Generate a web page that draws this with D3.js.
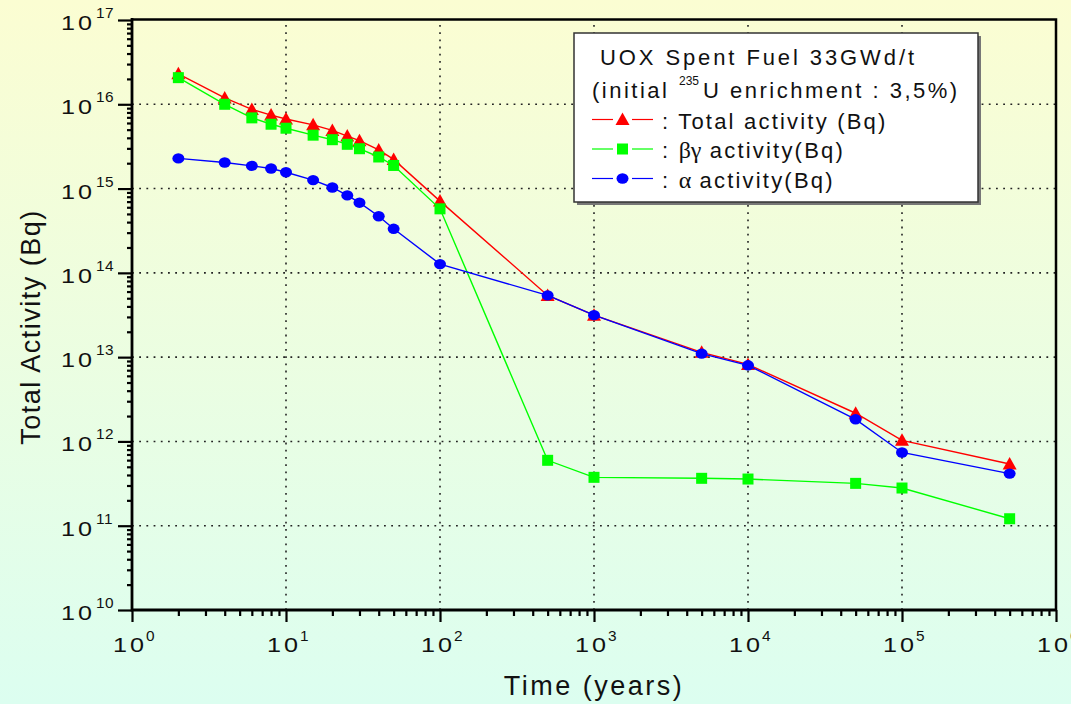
<!DOCTYPE html>
<html>
<head>
<meta charset="utf-8">
<script src="https://cdn.jsdelivr.net/npm/d3@7"></script>
<style>
body { margin: 0; }
svg text { font-family: "Liberation Sans", Arial, sans-serif; fill: #111; }
</style>
</head>
<body>
<div id="chart"></div>
<script>
(function(){

// data (years after discharge, activity in Bq)
var years = [2, 4, 6, 8, 10, 15, 20, 25, 30, 40, 50, 100, 500, 1000, 5000, 10000, 50000, 100000, 500000];
var totalActivity = [2.3e16, 1.19e16, 8.7e15, 7.45e15, 6.7e15, 5.7e15, 4.9e15, 4.2e15, 3.7e15, 2.87e15, 2.22e15, 7.1e14,
	5.4e13, 3.15e13, 1.14e13, 8.2e12, 2.16e12, 1.03e12, 5.4e11];
var betaGammaActivity = [2.07e16, 1.0e16, 6.9e15, 5.8e15, 5.2e15, 4.3e15, 3.8e15, 3.35e15, 2.97e15, 2.37e15, 1.88e15, 5.75e14,
	5.97e11, 3.75e11, 3.65e11, 3.58e11, 3.18e11, 2.8e11, 1.21e11];
var alphaActivity = [2.28e15, 2.04e15, 1.86e15, 1.73e15, 1.56e15, 1.26e15, 1.03e15, 8.3e14, 6.8e14, 4.7e14, 3.33e14, 1.27e14,
	5.4e13, 3.15e13, 1.1e13, 8.0e12, 1.83e12, 7.4e11, 4.15e11];

var xExps = [0, 1, 2, 3, 4, 5, 6];
var yExps = [10, 11, 12, 13, 14, 15, 16, 17];

var legendTitle = 'UOX Spent Fuel 33GWd/t';
var seriesNames = [
	{greek: '', label: 'Total activity (Bq)'},
	{greek: '\u03b2\u03b3', label: 'activity(Bq)'},
	{greek: '\u03b1', label: 'activity(Bq)'}
];

var width = 1071;
var height = 704;

var x = d3.scaleLog().domain([1, 1e6]).range([132, 1056]);
var y = d3.scaleLog().domain([1e10, 1e17]).range([610, 20]);

var svg = d3.select('#chart').append('svg')
	.attr('width', width)
	.attr('height', height);

// background gradient, cream at the top to mint at the bottom
var grad = svg.append('defs').append('linearGradient')
	.attr('id', 'bg')
	.attr('x1', 0).attr('y1', 0).attr('x2', 0).attr('y2', 1);
grad.append('stop').attr('offset', '0%').attr('stop-color', '#fbfdd2');
grad.append('stop').attr('offset', '100%').attr('stop-color', '#dcfef0');

svg.append('rect')
	.attr('width', width)
	.attr('height', height)
	.attr('fill', 'url(#bg)');

// dotted grid at the decades
var xGrid = xExps.slice(1, -1).map(function(e) { return Math.pow(10, e); });
var yGrid = yExps.slice(1, -1).map(function(e) { return Math.pow(10, e); });

var grid = svg.append('g').attr('class', 'grid');

grid.selectAll('line.gx').data(xGrid).enter()
	.append('line')
	.attr('x1', function(d) { return x(d); })
	.attr('x2', function(d) { return x(d); })
	.attr('y1', y.range()[0])
	.attr('y2', y.range()[1]);

grid.selectAll('line.gy').data(yGrid).enter()
	.append('line')
	.attr('x1', x.range()[0])
	.attr('x2', x.range()[1])
	.attr('y1', function(d) { return y(d); })
	.attr('y2', function(d) { return y(d); });

grid.selectAll('line')
	.attr('stroke', '#222')
	.attr('stroke-width', 1.6)
	.attr('stroke-dasharray', '1.8,5.4');

// minor + major ticks
function minors(exps) {
	var out = [];
	exps.slice(0, -1).forEach(function(e) {
		for (var m = 2; m <= 9; m++) out.push(m * Math.pow(10, e));
	});
	return out;
}
var xMajor = xExps.map(function(e) { return Math.pow(10, e); });
var yMajor = yExps.map(function(e) { return Math.pow(10, e); });

var xAxisMinor = d3.axisBottom(x).tickValues(minors(xExps)).tickSize(6).tickFormat('');
var xAxisMajor = d3.axisBottom(x).tickValues(xMajor).tickSize(12).tickFormat('');
var yAxisMinor = d3.axisLeft(y).tickValues(minors(yExps)).tickSize(5).tickFormat('');
var yAxisMajor = d3.axisLeft(y).tickValues(yMajor).tickSize(14).tickFormat('');

[[xAxisMinor, 'translate(0,610)'], [xAxisMajor, 'translate(0,610)'],
 [yAxisMinor, 'translate(132,0)'], [yAxisMajor, 'translate(132,0)']].forEach(function(a) {
	var g = svg.append('g').attr('transform', a[1]).call(a[0]);
	g.select('.domain').remove();
	g.selectAll('line').attr('stroke', '#000').attr('stroke-width', 2.2);
});

// frame
svg.append('path')
	.attr('d', 'M131,19.5 H1056 V610')
	.attr('fill', 'none')
	.attr('stroke', '#000')
	.attr('stroke-width', 2.5);
svg.append('path')
	.attr('d', 'M132,18 V610 H1057')
	.attr('fill', 'none')
	.attr('stroke', '#000')
	.attr('stroke-width', 2.8);

// tick labels: a wide "10" (Origin style) with a raised exponent
function powLabel(sel, tx, ty, ex, ey) {
	sel.append('text')
		.attr('transform', 'translate(' + tx + ',' + ty + ') scale(1.2,1)')
		.style('font-size', '21px')
		.style('letter-spacing', '2.5px')
		.text('10');
	sel.append('text')
		.attr('transform', 'translate(' + ex + ',' + ey + ') scale(1.1,1)')
		.style('font-size', '14px')
		.style('letter-spacing', '0.5px')
		.text(function(d) { return d; });
}

var xLab = svg.append('g').selectAll('g').data(xExps).enter()
	.append('g')
	.attr('transform', function(d) { return 'translate(' + x(Math.pow(10, d)) + ',0)'; });
powLabel(xLab, -19, 652, 14, 641);

var yLab = svg.append('g').selectAll('g').data(yExps).enter()
	.append('g')
	.attr('transform', function(d) { return 'translate(0,' + y(Math.pow(10, d)) + ')'; });
powLabel(yLab, 61, 10, 96, -2);

// axis titles
svg.append('text')
	.attr('x', 594)
	.attr('y', 695)
	.attr('text-anchor', 'middle')
	.style('font-size', '27px')
	.style('letter-spacing', '2.5px')
	.text('Time (years)');

svg.append('text')
	.attr('transform', 'translate(40,327) rotate(-90)')
	.attr('text-anchor', 'middle')
	.style('font-size', '27px')
	.style('letter-spacing', '1.5px')
	.text('Total Activity (Bq)');

// series
var series = [
	{values: totalActivity, color: '#ff0000', shape: 'triangle'},
	{values: betaGammaActivity, color: '#00ff00', shape: 'square'},
	{values: alphaActivity, color: '#0000ff', shape: 'circle'}
];

var line = d3.line()
	.x(function(d) { return x(d[0]); })
	.y(function(d) { return y(d[1]); });

function drawMarker(sel, shape, color) {
	if (shape == 'triangle') {
		sel.append('path').attr('d', 'M0,-7 L7,5.5 L-7,5.5 Z').attr('fill', color);
	} else if (shape == 'square') {
		sel.append('rect').attr('x', -5.5).attr('y', -5.5).attr('width', 11).attr('height', 11).attr('fill', color);
	} else {
		sel.append('ellipse').attr('rx', 6).attr('ry', 5.2).attr('fill', color);
	}
}

series.forEach(function(s) {
	var pts = years.map(function(t, i) { return [t, s.values[i]]; });
	var g = svg.append('g');
	g.append('path')
		.datum(pts)
		.attr('d', line)
		.attr('fill', 'none')
		.attr('stroke', s.color)
		.attr('stroke-width', 1.4);
	var m = g.selectAll('g.pt').data(pts).enter()
		.append('g')
		.attr('transform', function(d) { return 'translate(' + x(d[0]) + ',' + y(d[1]) + ')'; });
	drawMarker(m, s.shape, s.color);
});

// legend
var lg = svg.append('g');
lg.append('rect')
	.attr('x', 577).attr('y', 36).attr('width', 404).attr('height', 169)
	.attr('fill', '#777');
lg.append('rect')
	.attr('x', 574).attr('y', 33).attr('width', 404).attr('height', 169)
	.attr('fill', '#fff')
	.attr('stroke', '#333')
	.attr('stroke-width', 1.5);

lg.append('text')
	.attr('x', 600).attr('y', 65)
	.style('font-size', '22px')
	.style('letter-spacing', '2.9px')
	.text(legendTitle);

var sub = lg.append('text')
	.attr('y', 98)
	.style('font-size', '22px')
	.style('letter-spacing', '2.5px');
sub.append('tspan').attr('x', 592).text('(initial');
sub.append('tspan').attr('x', 679).attr('y', 85).style('font-size', '12px').style('letter-spacing', '0px').text('235');
sub.append('tspan').attr('x', 703).attr('y', 98).text('U enrichment : 3,5%)');

seriesNames.forEach(function(n, i) {
	var cy = 119.5 + i * 29.5;
	var s = series[i];
	var row = lg.append('g');
	row.append('line').attr('x1', 592).attr('x2', 613).attr('y1', cy).attr('y2', cy)
		.attr('stroke', s.color).attr('stroke-width', 1.2);
	row.append('line').attr('x1', 632).attr('x2', 653).attr('y1', cy).attr('y2', cy)
		.attr('stroke', s.color).attr('stroke-width', 1.2);
	var mk = row.append('g').attr('transform', 'translate(622.5,' + cy + ')');
	drawMarker(mk, s.shape, s.color);

	var t = row.append('text')
		.attr('x', 662).attr('y', cy + 9)
		.style('font-size', '22px')
		.style('letter-spacing', '2.2px');
	t.append('tspan').text(': ');
	if (n.greek) {
		t.append('tspan').style('font-family', '"Liberation Serif", serif').style('font-size', '24px').style('letter-spacing', '0px').text(n.greek);
		t.append('tspan').text(' ' + n.label);
	} else {
		t.append('tspan').text(n.label);
	}
});

})();
</script>
</body>
</html>
